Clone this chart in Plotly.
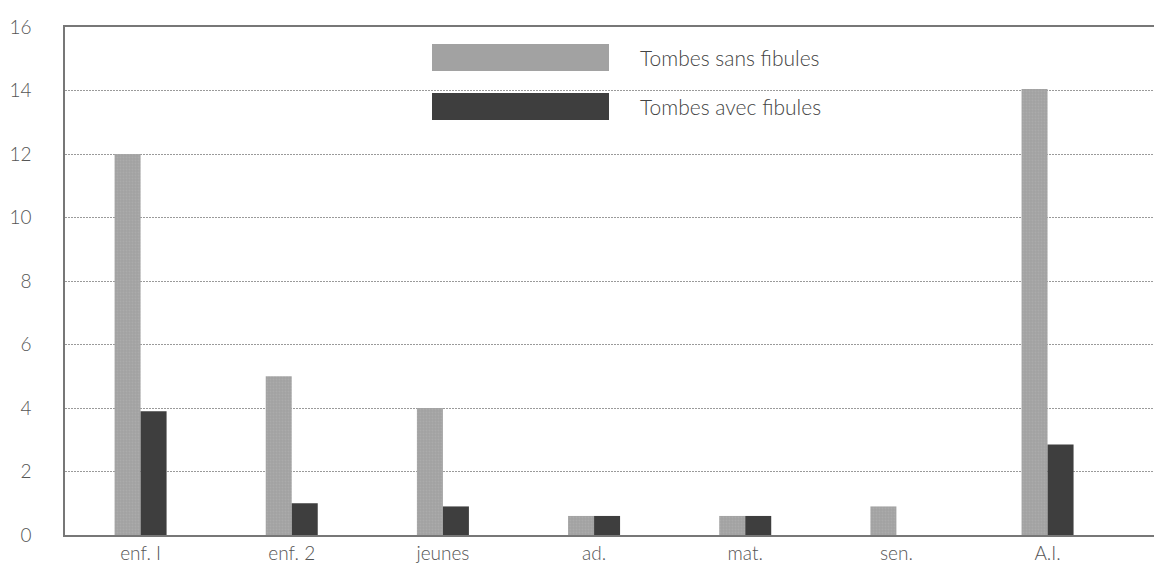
import plotly.graph_objects as go

categories = ["enf. I", "enf. 2", "jeunes", "ad.", "mat.", "sen.", "A.I."]
sans_fibules = [12, 5, 4, 0.6, 0.6, 0.9, 14.05]
avec_fibules = [3.9, 1, 0.9, 0.6, 0.6, 0, 2.85]
series_names = ["Tombes sans fibules", "Tombes avec fibules"]
y_ticks = [0, 2, 4, 6, 8, 10, 12, 14, 16]

LIGHT = "#a2a2a2"
DARK = "#3e3e3e"
FONT = "Lato, 'Open Sans', sans-serif"
TXT = "#555555"

fig = go.Figure()
fig.add_trace(go.Bar(x=categories, y=sans_fibules, name=series_names[0],
                     marker=dict(color=LIGHT, line=dict(width=0),
                                 pattern=dict(shape=".", fgcolor="#b4b4b4", bgcolor=LIGHT, size=3, solidity=0.3))))
fig.add_trace(go.Bar(x=categories, y=avec_fibules, name=series_names[1],
                     marker=dict(color=DARK, line=dict(width=0))))

# page body has an 8px margin; compensate so the plot sits where the reference has it
OFF = 8
W, H = 1162, 568 - OFF
ml, mr, mt, mb = 65 - OFF, 0, 27 - OFF, 33
pw, ph = W - ml - mr, H - mt - mb

def px(x):
    return (x - OFF - ml) / pw

def py(y):
    return (H - mb - (y - OFF)) / ph

shapes = []
annotations = []
legend_rows = [(44, 71, LIGHT), (93, 120, DARK)]
for (y0, y1, col), name in zip(legend_rows, series_names):
    shapes.append(dict(type="rect", xref="paper", yref="paper",
                       x0=px(432), x1=px(609), y0=py(y1), y1=py(y0),
                       fillcolor=col, line=dict(width=0)))
    annotations.append(dict(xref="paper", yref="paper", x=px(638), y=py((y0 + y1) / 2),
                            text=name, showarrow=False, xanchor="left", yanchor="middle",
                            font=dict(family=FONT, size=21, color="#444444", weight=300)))

fig.update_layout(
    width=W, height=H,
    margin=dict(l=ml, r=mr, t=mt, b=mb, autoexpand=False),
    paper_bgcolor="white", plot_bgcolor="white",
    barmode="group", bargap=0.656, bargroupgap=0,
    showlegend=False,
    shapes=shapes, annotations=annotations,
    font=dict(family=FONT, color=TXT, size=19, weight=300),
)
fig.update_xaxes(range=[-0.5, 6.81], showline=True, linecolor="#777777", linewidth=1.5,
                 mirror=True, showgrid=False, ticks="", automargin=False,
                 tickfont=dict(size=19, color=TXT, weight=300))
fig.update_yaxes(range=[0, 16], tickvals=y_ticks, showline=True, linecolor="#777777", linewidth=1.5,
                 showgrid=True, gridcolor="#9a9a9a", gridwidth=1, griddash="2px,1px",
                 zeroline=False, ticks="", ticklabelstandoff=28, automargin=False,
                 tickfont=dict(size=19, color=TXT, weight=300))

fig.write_html("out.html")
